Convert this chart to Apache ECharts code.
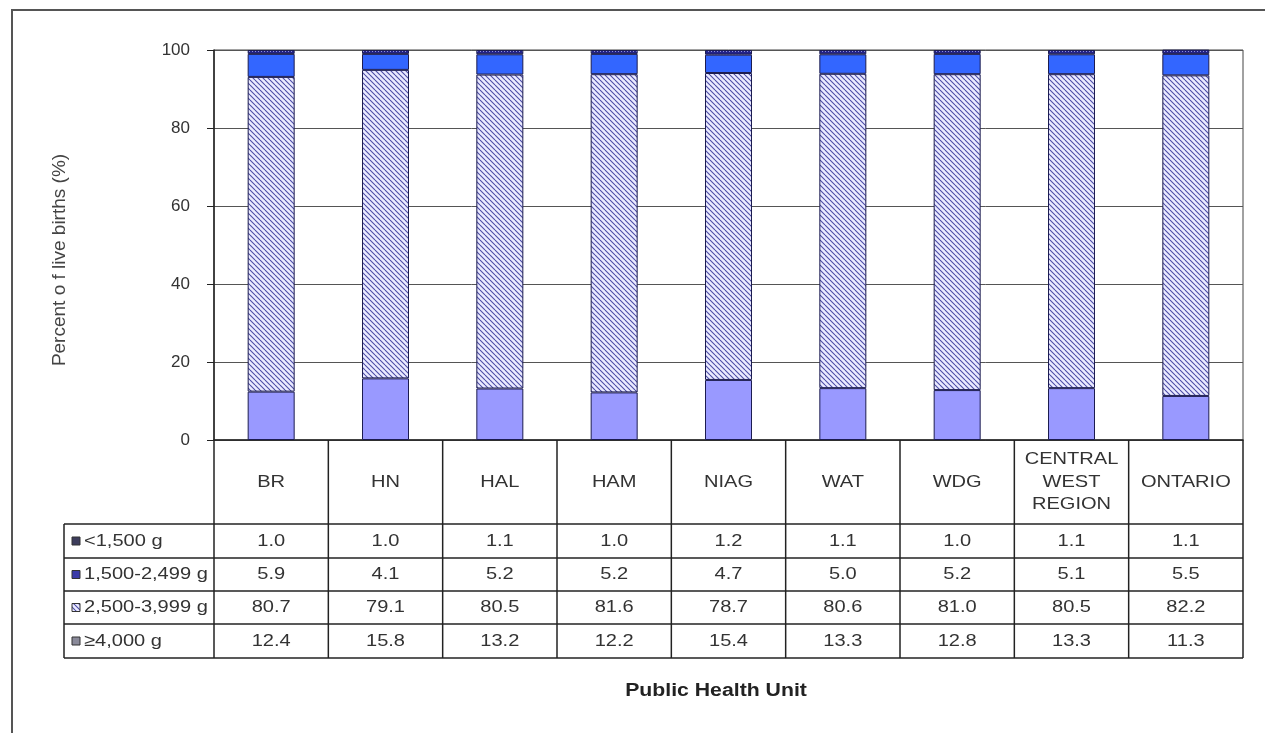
<!DOCTYPE html>
<html>
<head>
<meta charset="utf-8">
<script src="https://cdn.jsdelivr.net/npm/echarts@6/dist/echarts.min.js"></script>
<style>
  html, body { margin: 0; padding: 0; background: #fff; }
  #chart { width: 1265px; height: 733px; }
</style>
</head>
<body>
<div id="chart"></div>
<script>
// Birth weight distribution by public health unit (percent of live births)
const categories = ['BR', 'HN', 'HAL', 'HAM', 'NIAG', 'WAT', 'WDG', 'CENTRAL\nWEST\nREGION', 'ONTARIO'];
const seriesNames = ['<1,500 g', '1,500-2,499 g', '2,500-3,999 g', '\u22654,000 g'];
const under1500 = [1.0, 1.0, 1.1, 1.0, 1.2, 1.1, 1.0, 1.1, 1.1];
const from1500to2499 = [5.9, 4.1, 5.2, 5.2, 4.7, 5.0, 5.2, 5.1, 5.5];
const from2500to3999 = [80.7, 79.1, 80.5, 81.6, 78.7, 80.6, 81.0, 80.5, 82.2];
const over4000 = [12.4, 15.8, 13.2, 12.2, 15.4, 13.3, 12.8, 13.3, 11.3];
const yTicks = [0, 20, 40, 60, 80, 100];

const FONT = '"Liberation Sans", Arial, sans-serif';
const GRID = { left: 214, right: 22, top: 50, bottom: 293 };
const ROW_LINES = [524, 558, 591, 624, 658];
const TABLE_LEFT = 64;
const TEXT_STRETCH = 1.18; // table text is set slightly wide

function makePattern(size, bg, line, width) {
  const c = document.createElement('canvas');
  c.width = size; c.height = size;
  const g = c.getContext('2d');
  g.fillStyle = bg; g.fillRect(0, 0, size, size);
  g.strokeStyle = line; g.lineWidth = width;
  for (const off of [-size, 0, size]) {
    g.beginPath(); g.moveTo(0, off); g.lineTo(size, size + off); g.stroke();
  }
  return c;
}
function makeDotted(size, bg, dot) {
  const c = document.createElement('canvas');
  c.width = size; c.height = size;
  const g = c.getContext('2d');
  g.fillStyle = bg; g.fillRect(0, 0, size, size);
  g.fillStyle = dot; g.fillRect(0, 0, 1, 1);
  return c;
}
const hatch = { image: makePattern(5, '#eaeaff', '#4b4ba6', 1.1), repeat: 'repeat' };
const navyDots = { image: makeDotted(3, '#23238a', '#8d8dd8'), repeat: 'repeat' };

const seriesColors = [navyDots, '#3366ff', hatch, '#9999ff'];
const keyColors = ['#3d3d5c', '#3a3aa8', hatch, '#8a8a9a'];
const seriesData = [under1500, from1500to2499, from2500to3999, over4000];
const drawOrder = [3, 2, 1, 0]; // bottom to top

const chart = echarts.init(document.getElementById('chart'));

chart.setOption({
  animation: false,
  backgroundColor: '#fff',
  grid: { left: GRID.left, right: GRID.right, top: GRID.top, bottom: GRID.bottom, show: true, borderColor: '#444', borderWidth: 1 },
  xAxis: {
    type: 'category',
    data: categories,
    axisLine: { lineStyle: { color: '#222', width: 1.5 } },
    axisTick: { show: false },
    axisLabel: { show: false }
  },
  yAxis: {
    type: 'value', min: 0, max: 100, interval: 20,
    axisLine: { show: true, lineStyle: { color: '#222', width: 1.5 } },
    axisTick: { show: true, length: 7, lineStyle: { color: '#222' } },
    axisLabel: {
      margin: 24, fontFamily: FONT, fontSize: 17, color: '#333',
      formatter: v => (yTicks.includes(v) ? String(v) : '')
    },
    splitLine: { lineStyle: { color: '#555', width: 1 } }
  },
  series: drawOrder.map(i => ({
    name: seriesNames[i],
    type: 'bar',
    stack: 'weight',
    barWidth: 47,
    data: seriesData[i],
    itemStyle: { color: seriesColors[i], borderColor: '#1c1c50', borderWidth: 1 }
  }))
});

// Data table beneath the chart, laid out on the category axis positions
const W = chart.getWidth();
const plotRight = W - GRID.right;
const plotLeft = GRID.left;
const bandW = (plotRight - plotLeft) / categories.length;
const graphics = [];
const lineStyle = { stroke: '#222', lineWidth: 1.5 };

function cellText(text, x, y, align, extra) {
  return Object.assign({
    type: 'text', x: x, y: y, scaleX: TEXT_STRETCH, silent: true,
    style: {
      text: text, font: '17px ' + FONT, fill: '#333',
      align: align, textAlign: align, verticalAlign: 'middle', textVerticalAlign: 'middle',
      lineHeight: 22.5
    }
  }, extra || {});
}

// vertical lines between categories (through header and data rows)
for (let k = 0; k <= categories.length; k++) {
  const x = plotLeft + k * bandW;
  graphics.push({ type: 'line', shape: { x1: x, y1: 440, x2: x, y2: ROW_LINES[ROW_LINES.length - 1] }, style: lineStyle, silent: true });
}
// left border of legend column
graphics.push({ type: 'line', shape: { x1: TABLE_LEFT, y1: ROW_LINES[0], x2: TABLE_LEFT, y2: ROW_LINES[ROW_LINES.length - 1] }, style: lineStyle, silent: true });
// horizontal row lines
ROW_LINES.forEach(y => {
  graphics.push({ type: 'line', shape: { x1: TABLE_LEFT, y1: y, x2: plotRight, y2: y }, style: lineStyle, silent: true });
});

// header row: category names
categories.forEach((name, c) => {
  const cx = chart.convertToPixel({ xAxisIndex: 0 }, c);
  graphics.push(cellText(name, cx, (440 + ROW_LINES[0]) / 2, 'center'));
});

// data rows: legend key, series name, values
seriesNames.forEach((name, r) => {
  const cy = (ROW_LINES[r] + ROW_LINES[r + 1]) / 2;
  graphics.push({ type: 'rect', shape: { x: 72, y: cy - 4, width: 8, height: 8 }, style: { fill: keyColors[r], stroke: '#333', lineWidth: 1 }, silent: true });
  graphics.push(cellText(name, 84, cy, 'left'));
  seriesData[r].forEach((v, c) => {
    const cx = chart.convertToPixel({ xAxisIndex: 0 }, c);
    graphics.push(cellText(v.toFixed(1), cx, cy, 'center'));
  });
});

// axis titles
graphics.push({
  type: 'text', x: 716, y: 691, scaleX: TEXT_STRETCH, silent: true,
  style: { text: 'Public Health Unit', font: 'bold 18px ' + FONT, fill: '#222', align: 'center', textAlign: 'center', verticalAlign: 'middle', textVerticalAlign: 'middle' }
});
graphics.push({
  type: 'text', x: 60, y: 260, rotation: Math.PI / 2, silent: true,
  style: { text: 'Percent o f live births (%)', font: '19px ' + FONT, fill: '#444', align: 'center', textAlign: 'center', verticalAlign: 'middle', textVerticalAlign: 'middle' }
});
// outer frame
graphics.push({ type: 'rect', shape: { x: 12, y: 10, width: 1262, height: 740 }, style: { fill: 'none', stroke: '#555', lineWidth: 2 }, silent: true });

chart.setOption({ graphic: graphics });
</script>
</body>
</html>
